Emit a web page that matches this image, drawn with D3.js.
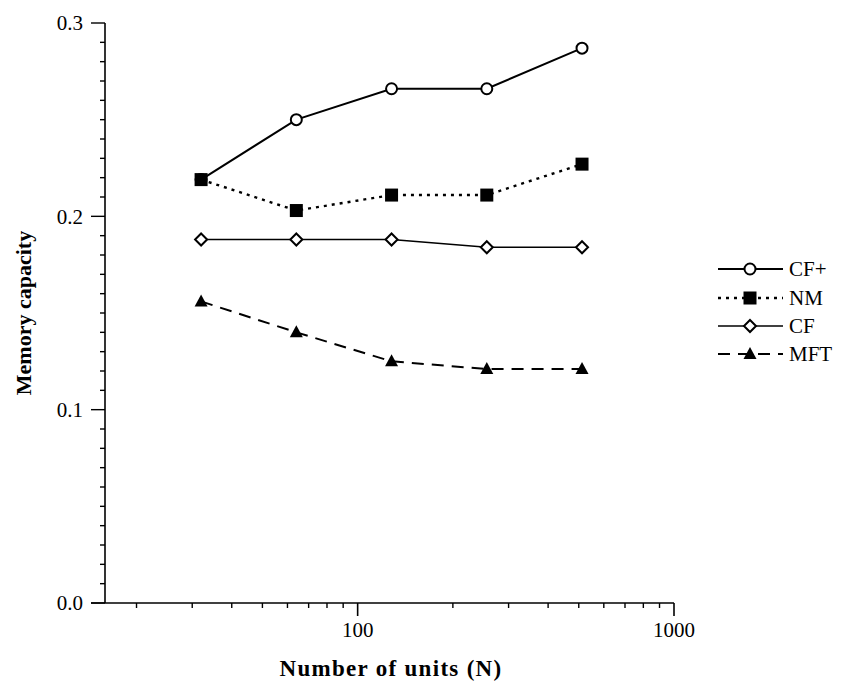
<!DOCTYPE html>
<html>
<head>
<meta charset="utf-8">
<script src="https://cdn.jsdelivr.net/npm/d3@7"></script>
<style>
  html, body { margin: 0; padding: 0; background: #fff; }
  svg { display: block; font-family: "Liberation Serif", "DejaVu Serif", serif; }
</style>
</head>
<body>
<svg id="chart" width="847" height="683"></svg>
<script>
// Network size (number of units)
const units = [32, 64, 128, 256, 512];

// Memory capacity per rule
const cfPlus = [0.219, 0.250, 0.266, 0.266, 0.287];
const nm     = [0.219, 0.203, 0.211, 0.211, 0.227];
const cf     = [0.188, 0.188, 0.188, 0.184, 0.184];
const mft    = [0.156, 0.140, 0.125, 0.121, 0.121];

const seriesNames = ["CF+", "NM", "CF", "MFT"];
const yTicks = [0.0, 0.1, 0.2, 0.3];
const xTicks = [100, 1000];

const series = [
  { name: seriesNames[0], values: cfPlus, dash: null,  width: 2.0, marker: "circle" },
  { name: seriesNames[1], values: nm,     dash: "3,5", width: 2.4, marker: "square" },
  { name: seriesNames[2], values: cf,     dash: null,  width: 1.6, marker: "diamond" },
  { name: seriesNames[3], values: mft,    dash: "12,8", width: 2.0, marker: "triangle" }
];

const svg = d3.select("#chart");
const x = d3.scaleLog().domain([15.9, 1000]).range([105, 674]);
const y = d3.scaleLinear().domain([0, 0.3]).range([603, 23]);

// Axes
const g = svg.append("g");
g.append("line").attr("x1", 91).attr("x2", 674).attr("y1", y(0)).attr("y2", y(0))
  .attr("stroke", "#000").attr("stroke-width", 1.6);
g.append("line").attr("x1", x.range()[0]).attr("x2", x.range()[0]).attr("y1", y(0)).attr("y2", y(0.3))
  .attr("stroke", "#000").attr("stroke-width", 1.6);

// y ticks: minor every 0.01, major every 0.1
const yMinor = d3.range(0, 31).map(i => i / 100);
g.selectAll(".ym").data(yMinor).enter().append("line")
  .attr("x1", d => (Math.round(d * 100) % 10 === 0) ? 91 : 100)
  .attr("x2", 105)
  .attr("y1", d => y(d)).attr("y2", d => y(d))
  .attr("stroke", "#000").attr("stroke-width", 1.4);
g.selectAll(".yl").data(yTicks).enter().append("text")
  .attr("x", 83).attr("y", d => y(d)).attr("dy", "0.35em")
  .attr("text-anchor", "end").attr("font-size", 21)
  .text(d => d.toFixed(1));

// x ticks: log minor ticks 20..90, 200..900, major at decades
const xMinor = [];
[10, 100].forEach(b => { for (let k = 2; k <= 9; k++) if (b * k >= 16) xMinor.push(b * k); });
g.selectAll(".xm").data(xMinor).enter().append("line")
  .attr("x1", d => x(d)).attr("x2", d => x(d))
  .attr("y1", y(0)).attr("y2", y(0) + 5)
  .attr("stroke", "#000").attr("stroke-width", 1.4);
g.selectAll(".xM").data(xTicks).enter().append("line")
  .attr("x1", d => x(d)).attr("x2", d => x(d))
  .attr("y1", y(0)).attr("y2", y(0) + 13)
  .attr("stroke", "#000").attr("stroke-width", 1.6);
g.selectAll(".xl").data(xTicks).enter().append("text")
  .attr("x", d => x(d)).attr("y", 637)
  .attr("text-anchor", "middle").attr("font-size", 21)
  .text(d => d);

// Axis titles
svg.append("text").attr("x", 391).attr("y", 676)
  .attr("text-anchor", "middle").attr("font-size", 23).attr("font-weight", "bold")
  .attr("letter-spacing", 1.3)
  .text("Number of units (N)");
svg.append("text").attr("transform", "translate(31,313) rotate(-90)")
  .attr("text-anchor", "middle").attr("font-size", 22).attr("font-weight", "bold")
  .text("Memory capacity");

// Marker drawing
function drawMarker(sel, type) {
  if (type === "circle") {
    sel.append("circle").attr("r", 5.5).attr("fill", "#fff").attr("stroke", "#000").attr("stroke-width", 2);
  } else if (type === "square") {
    sel.append("rect").attr("x", -6.5).attr("y", -6.5).attr("width", 13).attr("height", 13).attr("fill", "#000");
  } else if (type === "diamond") {
    sel.append("path").attr("d", "M0,-6L6,0L0,6L-6,0Z").attr("fill", "#fff").attr("stroke", "#000").attr("stroke-width", 2);
  } else if (type === "triangle") {
    sel.append("path").attr("d", "M0,-7L6.5,5L-6.5,5Z").attr("fill", "#000");
  }
}

const line = d3.line().x(d => x(d[0])).y(d => y(d[1]));

series.forEach(s => {
  const pts = units.map((u, i) => [u, s.values[i]]);
  svg.append("path").datum(pts).attr("d", line)
    .attr("fill", "none").attr("stroke", "#000").attr("stroke-width", s.width)
    .attr("stroke-dasharray", s.dash);
});
series.forEach(s => {
  const pts = units.map((u, i) => [u, s.values[i]]);
  svg.selectAll(null).data(pts).enter().append("g")
    .attr("transform", d => `translate(${x(d[0])},${y(d[1])})`)
    .each(function () { drawMarker(d3.select(this), s.marker); });
});

// Legend
const legendRows = [269, 298, 326, 354];
series.forEach((s, i) => {
  const lg = svg.append("g").attr("transform", `translate(0,${legendRows[i]})`);
  lg.append("line").attr("x1", 718).attr("x2", 783).attr("y1", 0).attr("y2", 0)
    .attr("stroke", "#000").attr("stroke-width", s.width).attr("stroke-dasharray", s.dash);
  drawMarker(lg.append("g").attr("transform", "translate(750,0)"), s.marker);
  lg.append("text").attr("x", 789).attr("y", 0).attr("dy", "0.35em")
    .attr("font-size", 21).text(s.name);
});
</script>
</body>
</html>
